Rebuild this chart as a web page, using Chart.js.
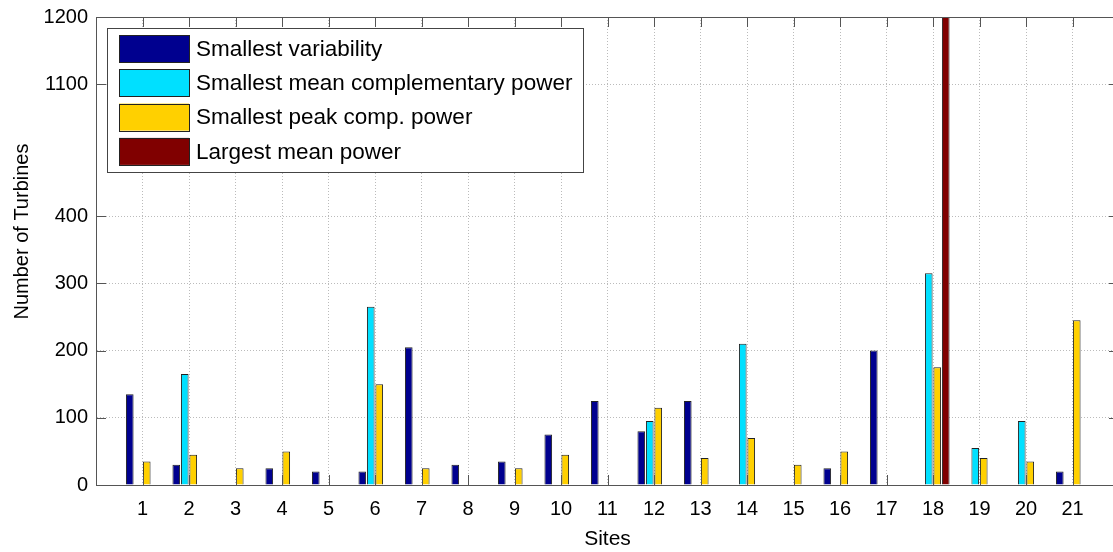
<!DOCTYPE html>
<html>
<head>
<meta charset="utf-8">
<script src="https://cdn.jsdelivr.net/npm/chart.js@4/dist/chart.umd.min.js"></script>
<style>
  html, body { margin:0; padding:0; background:#fff; overflow:hidden; }
  #wrap { width:1125px; height:552px; }
</style>
</head>
<body>
<div id="wrap"><canvas id="turbinesChart" width="1125" height="552"></canvas></div>
<script>
// ── Data ───────────────────────────────────────────────────────
const sites = [1,2,3,4,5,6,7,8,9,10,11,12,13,14,15,16,17,18,19,20,21];

const smallestVariability = [135, 30, null, 25, 20, 20, 205, 30, 35, 75, 125, 80, 125, null, null, 25, 200, null, null, null, 20];
const smallestMeanComp    = [null, 165, null, null, null, 265, null, null, null, null, null, 95, null, 210, null, null, null, 315, 55, 95, null];
const smallestPeakComp    = [35, 45, 25, 50, null, 150, 25, null, 25, 45, null, 115, 40, 70, 30, 50, null, 175, 40, 35, 245];
const largestMeanPower    = [null, null, null, null, null, null, null, null, null, null, null, null, null, null, null, null, null, 1230, null, null, null];

const seriesLabels = ['Smallest variability', 'Smallest mean complementary power', 'Smallest peak comp. power', 'Largest mean power'];
const seriesColors = ['#00008f', '#00e0ff', '#ffd000', '#800000'];

const yTickLabels = [0, 100, 200, 300, 400, 1100, 1200];

// broken y axis: values between 400 and 904 are cut out
const breakAt  = 400;
const breakGap = 504;
const toAxis   = v => v == null ? null : (v > breakAt ? v - breakGap : v);
const fromAxis = v => v > breakAt ? v + breakGap : v;

const FONT = '"Liberation Sans", Arial, sans-serif';

// ── Plugins ────────────────────────────────────────────────────
const boxAndTicks = {
  id: 'boxAndTicks',
  afterDatasetsDraw(chart) {
    const { ctx, chartArea: a, scales: { x, y } } = chart;
    const len = 10;
    ctx.save();
    ctx.strokeStyle = '#555';
    ctx.lineWidth = 1;
    ctx.beginPath();
    x.ticks.forEach(t => {
      const px = Math.round(x.getPixelForValue(t.value)) + 0.5;
      ctx.moveTo(px, a.bottom); ctx.lineTo(px, a.bottom - len);
      ctx.moveTo(px, a.top);    ctx.lineTo(px, a.top + len);
    });
    y.ticks.forEach(t => {
      const py = Math.round(y.getPixelForValue(t.value)) + 0.5;
      ctx.moveTo(a.left, py);  ctx.lineTo(a.left + len, py);
      ctx.moveTo(a.right, py); ctx.lineTo(a.right - len, py);
    });
    ctx.stroke();
    ctx.strokeRect(Math.round(a.left) + 0.5, Math.round(a.top) + 0.5,
                   Math.round(a.right - a.left), Math.round(a.bottom - a.top));
    ctx.restore();
  }
};

const boxLegend = {
  id: 'boxLegend',
  afterDraw(chart) {
    const { ctx } = chart;
    const x0 = 107, y0 = 28, w = 476, h = 144;
    ctx.save();
    ctx.fillStyle = '#fff';
    ctx.fillRect(x0, y0, w, h);
    ctx.strokeStyle = '#444';
    ctx.lineWidth = 1;
    ctx.strokeRect(x0 + 0.5, y0 + 0.5, w, h);
    ctx.font = '22.5px ' + FONT;
    ctx.textBaseline = 'middle';
    chart.data.datasets.forEach((ds, i) => {
      const ry = 35 + i * 34.3;
      ctx.fillStyle = ds.backgroundColor;
      ctx.fillRect(119, ry, 70, 27);
      ctx.strokeStyle = '#222';
      ctx.strokeRect(119.5, Math.round(ry) + 0.5, 70, 27);
      ctx.fillStyle = '#000';
      ctx.fillText(ds.label, 196, ry + 14.5);
    });
    ctx.restore();
  }
};

// ── Chart ──────────────────────────────────────────────────────
Chart.defaults.font.family = FONT;
Chart.defaults.font.size = 20;
Chart.defaults.color = '#000';

const allSeries = [smallestVariability, smallestMeanComp, smallestPeakComp, largestMeanPower];

new Chart(document.getElementById('turbinesChart'), {
  type: 'bar',
  data: {
    datasets: allSeries.map((vals, i) => ({
      label:           seriesLabels[i],
      data:            sites.map((s, j) => ({ x: s, y: toAxis(vals[j]) })),
      backgroundColor: seriesColors[i],
      borderColor:     '#222',
      borderWidth:     1,
      categoryPercentage: 0.73,
      barPercentage:      0.9,
    }))
  },
  options: {
    responsive: false,
    animation: false,
    layout: { padding: { top: 17, right: 6, left: 0, bottom: 0 } },
    plugins: { legend: { display: false }, tooltip: { enabled: false } },
    scales: {
      x: {
        type: 'linear',
        min: 0, max: 22,
        offset: false,
        afterFit: s => { s.height = 67; s.paddingLeft = 0; s.paddingRight = 0; },
        afterBuildTicks: s => { s.ticks = Array.from({ length: 23 }, (_, i) => ({ value: i })); },
        ticks: {
          autoSkip: false, maxRotation: 0, padding: 12,
          callback: v => (sites.includes(v) ? String(v) : '')
        },
        grid:   { color: '#bbb', lineWidth: 1, drawTicks: false, offset: false },
        border: { display: true, color: '#555', width: 1, dash: [1, 2] },
        title:  { display: true, text: 'Sites', font: { size: 21 }, padding: { top: 0, bottom: 0 } }
      },
      y: {
        min: 0, max: toAxis(1200),
        afterFit: s => { s.width = 96; s.paddingTop = 0; s.paddingBottom = 0; },
        afterBuildTicks: s => { s.ticks = yTickLabels.map(v => ({ value: toAxis(v) })); },
        ticks: { padding: 8, callback: v => String(fromAxis(v)) },
        grid:   { color: '#bbb', lineWidth: 1, drawTicks: false },
        border: { display: true, color: '#555', width: 1, dash: [1, 2] },
        title:  { display: true, text: '       Number of Turbines', font: { size: 20 }, padding: { top: 10, bottom: 0 } }
      }
    }
  },
  plugins: [boxAndTicks, boxLegend]
});
</script>
</body>
</html>
